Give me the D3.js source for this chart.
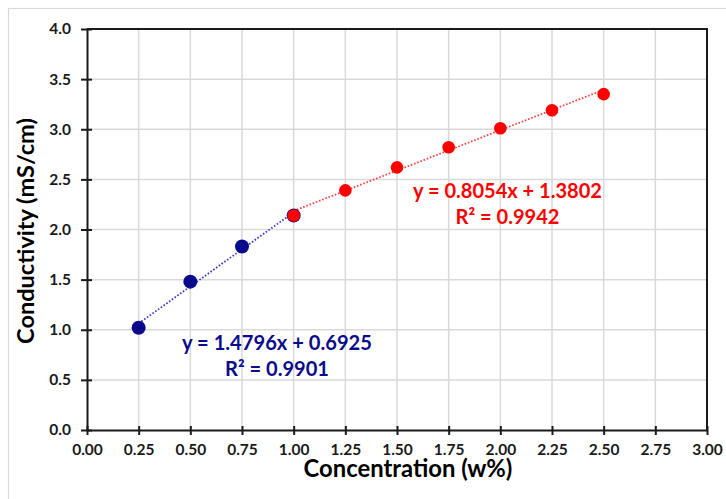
<!DOCTYPE html>
<html>
<head>
<meta charset="utf-8">
<script src="https://cdn.jsdelivr.net/npm/d3@7"></script>
<style>
  html, body { margin: 0; padding: 0; background: #fff; }
  svg { display: block; }
  text { font-family: Lato, "Open Sans", sans-serif; font-weight: 700; }
</style>
</head>
<body>
<svg id="chart" width="726" height="499"></svg>
<script>
// Conductivity measurements at low concentration (blue) and high concentration (red)
const lowConc  = [0.25, 0.50, 0.75, 1.00];
const lowCond  = [1.02, 1.48, 1.83, 2.14];
const highConc = [1.00, 1.25, 1.50, 1.75, 2.00, 2.25, 2.50];
const highCond = [2.14, 2.39, 2.62, 2.82, 3.01, 3.19, 3.35];

// Linear fits reported on the chart
const lowFit  = { slope: 1.4796, intercept: 0.6925, r2: 0.9901 };
const highFit = { slope: 0.8054, intercept: 1.3802, r2: 0.9942 };

const xTicks = [0, 0.25, 0.5, 0.75, 1, 1.25, 1.5, 1.75, 2, 2.25, 2.5, 2.75, 3];
const yTicks = [0, 0.5, 1, 1.5, 2, 2.5, 3, 3.5, 4];

const svg = d3.select("#chart");
const plotL = 87, plotR = 707, plotT = 29, plotB = 430;

const x = d3.scaleLinear().domain([0, 3]).range([plotL, plotR]);
const y = d3.scaleLinear().domain([0, 4]).range([plotB, plotT]);

const navy = "#0a0a8c", red = "#ff0000";

// Outer chart frame
svg.append("rect").attr("x", 8.5).attr("y", 8.5).attr("width", 760).attr("height", 520)
  .attr("fill", "#fff").attr("stroke", "#d9d9d9").attr("stroke-width", 1.2);

// Gridlines
svg.append("g").selectAll("line").data(xTicks.slice(1, -1)).join("line")
  .attr("x1", d => x(d)).attr("x2", d => x(d)).attr("y1", plotT).attr("y2", plotB)
  .attr("stroke", "#d9d9d9").attr("stroke-width", 1.5);
svg.append("g").selectAll("line").data(yTicks.slice(1, -1)).join("line")
  .attr("y1", d => y(d)).attr("y2", d => y(d)).attr("x1", plotL).attr("x2", plotR)
  .attr("stroke", "#d9d9d9").attr("stroke-width", 1.5);

// Plot border (top and right)
svg.append("path")
  .attr("d", `M${plotL},${plotT}H${plotR}V${plotB}`)
  .attr("fill", "none").attr("stroke", "#1a1a1a").attr("stroke-width", 2);

// Axes
const fmtX = d3.format(".2f"), fmtY = d3.format(".1f");
const xAxis = svg.append("g").attr("transform", `translate(0,${plotB})`)
  .call(d3.axisBottom(x).tickValues(xTicks).tickFormat(fmtX).tickSizeInner(5).tickSizeOuter(0).tickPadding(9));
const yAxis = svg.append("g").attr("transform", `translate(${plotL},0)`)
  .call(d3.axisLeft(y).tickValues(yTicks).tickFormat(fmtY).tickSizeInner(6).tickSizeOuter(0).tickPadding(10));

[xAxis, yAxis].forEach(g => {
  g.select(".domain").attr("stroke", "#1a1a1a").attr("stroke-width", 2);
  g.selectAll(".tick line").attr("stroke", "#1a1a1a").attr("stroke-width", 2);
  g.selectAll(".tick text").attr("fill", "#1a1a1a")
    .style("font-family", "Lato, sans-serif").style("font-weight", 700).style("font-size", "15.5px");
});
// ticks cross the axis line
xAxis.selectAll(".tick line").attr("y1", -4).attr("y2", 5);
yAxis.selectAll(".tick line").attr("x1", 5).attr("x2", -6);

// Trendlines (dotted)
function fitLine(fit, xs, color) {
  const x0 = d3.min(xs), x1 = d3.max(xs);
  svg.append("line")
    .attr("x1", x(x0)).attr("y1", y(fit.slope * x0 + fit.intercept))
    .attr("x2", x(x1)).attr("y2", y(fit.slope * x1 + fit.intercept))
    .attr("stroke", color).attr("stroke-width", 1.8).attr("stroke-dasharray", "1.6,1.8");
}
fitLine(lowFit, lowConc, "#3a3ad0");
fitLine(highFit, highConc, "#ff4040");

// Markers
svg.append("g").selectAll("circle").data(lowConc.map((c, i) => [c, lowCond[i]])).join("circle")
  .attr("cx", d => x(d[0])).attr("cy", d => y(d[1])).attr("r", 7).attr("fill", navy);
svg.append("g").selectAll("circle").data(highConc.map((c, i) => [c, highCond[i]])).join("circle")
  .attr("cx", d => x(d[0])).attr("cy", d => y(d[1])).attr("r", 6.3).attr("fill", red);

// Scale a text element's font so it spans the given width
function fitWidth(sel, width) {
  const base = parseFloat(sel.style("font-size"));
  const w = sel.node().getComputedTextLength();
  sel.style("font-size", (base * width / w) + "px");
  return sel;
}

// Equation labels
function eqLabel(fit, cx, y1, y2, w1, w2, color) {
  const t1 = svg.append("text").attr("x", cx).attr("y", y1).attr("text-anchor", "middle")
    .attr("fill", color).style("font-size", "20px")
    .text(`y = ${fit.slope.toFixed(4)}x + ${fit.intercept.toFixed(4)}`);
  fitWidth(t1, w1);
  const t2 = svg.append("text").attr("x", cx).attr("y", y2).attr("text-anchor", "middle")
    .attr("fill", color).style("font-size", "20px")
    .text(`R² = ${fit.r2.toFixed(4)}`);
  fitWidth(t2, w2);
}
eqLabel(lowFit, 277, 350, 376, 190, 104, navy);
eqLabel(highFit, 507.5, 198, 224, 189, 104, red);

// Axis titles
const xt = svg.append("text").attr("x", 408).attr("y", 477).attr("text-anchor", "middle")
  .attr("fill", "#000").style("font-size", "22px").text("Concentration (w%)");
fitWidth(xt, 209);
const yt = svg.append("text").attr("transform", "translate(34,231) rotate(-90)").attr("text-anchor", "middle")
  .attr("fill", "#000").style("font-size", "22px").text("Conductivity (mS/cm)");
fitWidth(yt, 226);
</script>
</body>
</html>
